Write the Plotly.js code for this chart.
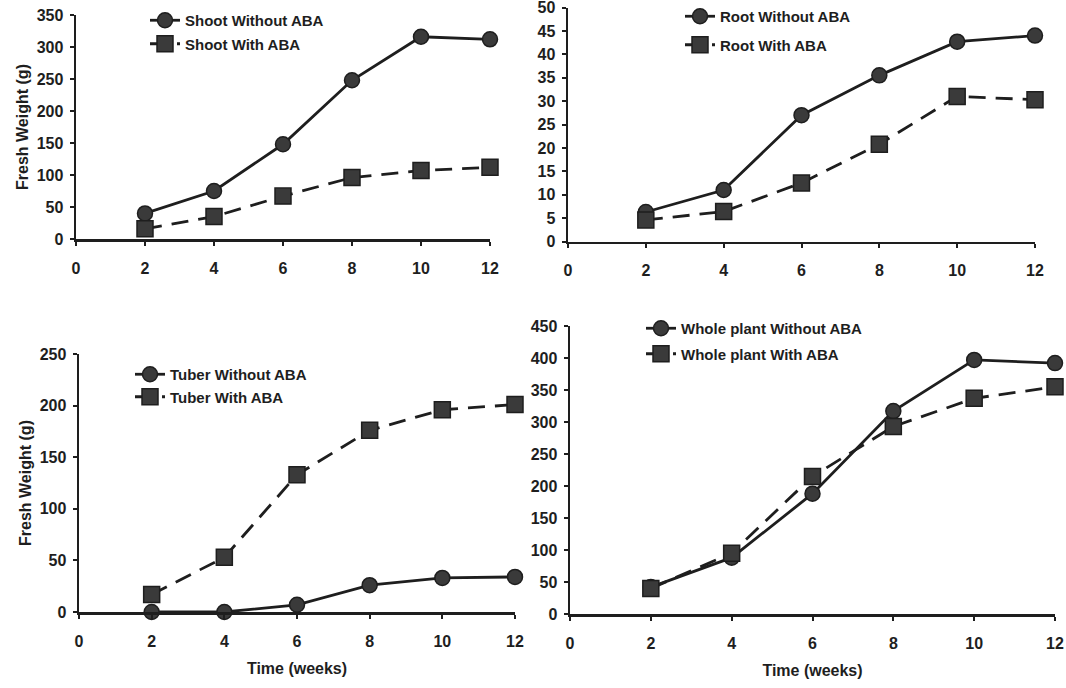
<!DOCTYPE html>
<html>
<head>
<meta charset="utf-8">
<script src="https://cdn.plot.ly/plotly-3.0.1.min.js"></script>
<style>
  html, body { margin: 0; padding: 0; background: #ffffff; }
  #chart { width: 1066px; height: 688px; }
</style>
</head>
<body>
<div id="chart"></div>
<script>
// ---- Data ----
const weeks = [2, 4, 6, 8, 10, 12];
const xTicks = [0, 2, 4, 6, 8, 10, 12];
const shootTicks = [0, 50, 100, 150, 200, 250, 300, 350];
const rootTicks  = [0, 5, 10, 15, 20, 25, 30, 35, 40, 45, 50];
const tuberTicks = [0, 50, 100, 150, 200, 250];
const wholeTicks = [0, 50, 100, 150, 200, 250, 300, 350, 400, 450];

const shootWithout = [40, 75, 148, 248, 316, 312];
const shootWith    = [16, 35, 67, 96, 107, 112];

const rootWithout  = [6.3, 11, 27, 35.5, 42.7, 44];
const rootWith     = [4.6, 6.4, 12.5, 20.8, 31, 30.3];

const tuberWithout = [0, 0, 7, 26, 33, 34];
const tuberWith    = [17, 53, 133, 176, 196, 201];

const wholeWithout = [42, 88, 188, 317, 397, 392];
const wholeWith    = [40, 95, 215, 293, 337, 355];

const names = {
  shoot: ['Shoot Without ABA', 'Shoot With ABA'],
  root:  ['Root Without ABA', 'Root With ABA'],
  tuber: ['Tuber Without ABA', 'Tuber With ABA'],
  whole: ['Whole plant Without ABA', 'Whole plant With ABA']
};

const yTitle = 'Fresh Weight (g)';
const xTitle = 'Time (weeks)';

// ---- Styling ----
const ink = '#1e1e1e';
const fontFam = 'Liberation Sans, Arial, Helvetica, sans-serif';

function withoutTrace(y, name, xa, ya, legend) {
  return {
    x: weeks, y: y, name: name, xaxis: xa, yaxis: ya, legend: legend,
    legendgroup: name,
    type: 'scatter', mode: 'lines+markers', cliponaxis: false,
    line: { color: ink, width: 2.8 },
    marker: { symbol: 'circle', size: 15, color: '#3a3a3a', line: { color: ink, width: 1.5 } }
  };
}
function withTrace(y, name, xa, ya, legend) {
  return {
    x: weeks, y: y, name: name, xaxis: xa, yaxis: ya, legend: legend,
    legendgroup: name,
    type: 'scatter', mode: 'lines+markers', cliponaxis: false,
    line: { color: ink, width: 2.8, dash: '17px,10px' },
    marker: { symbol: 'square', size: 16, color: '#3a3a3a', line: { color: ink, width: 1.5 } }
  };
}

const data = [
  withoutTrace(shootWithout, names.shoot[0], 'x', 'y', 'legend'),
  withTrace(shootWith, names.shoot[1], 'x', 'y', 'legend'),
  withoutTrace(rootWithout, names.root[0], 'x2', 'y2', 'legend2'),
  withTrace(rootWith, names.root[1], 'x2', 'y2', 'legend2'),
  withoutTrace(tuberWithout, names.tuber[0], 'x3', 'y3', 'legend3'),
  withTrace(tuberWith, names.tuber[1], 'x3', 'y3', 'legend3'),
  withoutTrace(wholeWithout, names.whole[0], 'x4', 'y4', 'legend4'),
  withTrace(wholeWith, names.whole[1], 'x4', 'y4', 'legend4')
];

const W = 1066, H = 688;
function px(a, b) { return [a / W, b / W]; }
function py(bottom, top) { return [1 - bottom / H, 1 - top / H]; }
function bold(v) { return '<b>' + v + '</b>'; }

const tickFont = { family: fontFam, size: 16, color: ink };
const titleFont = { family: fontFam, size: 16, color: ink };

function xAxis(domain, anchor, title) {
  const ax = {
    domain: domain, anchor: anchor, range: [0, 12],
    tickmode: 'array', tickvals: xTicks, ticktext: xTicks.map(bold),
    showline: true, linecolor: ink, linewidth: 2.6,
    ticks: 'outside', ticklen: 4, tickwidth: 2, tickcolor: ink,
    showgrid: false, zeroline: false, tickfont: tickFont, ticklabelstandoff: 9,
    ticklabeloverflow: 'allow',
    fixedrange: true
  };
  if (title) ax.title = { text: bold(title), font: titleFont, standoff: 14 };
  return ax;
}
function yAxis(domain, anchor, range, ticks, title) {
  const ax = {
    domain: domain, anchor: anchor, range: range,
    tickmode: 'array', tickvals: ticks, ticktext: ticks.map(bold),
    showline: true, linecolor: ink, linewidth: 2.4,
    ticks: 'outside', ticklen: 4, tickwidth: 2, tickcolor: ink,
    showgrid: false, zeroline: false, tickfont: tickFont, ticklabelstandoff: 3,
    ticklabeloverflow: 'allow',
    fixedrange: true
  };
  if (title) ax.title = { text: bold(title), font: titleFont, standoff: 4 };
  return ax;
}

const legendBase = {
  bgcolor: 'rgba(0,0,0,0)', borderwidth: 0,
  font: { family: fontFam, size: 15, color: ink, weight: 'bold' },
  xanchor: 'left', yanchor: 'top', itemwidth: 30
};

const layout = {
  width: W, height: H,
  margin: { l: 0, r: 0, t: 0, b: 0, pad: 0 },
  paper_bgcolor: '#ffffff', plot_bgcolor: '#ffffff',
  font: { family: fontFam, color: ink },
  showlegend: true,
  xaxis:  xAxis(px(76, 490), 'y'),
  yaxis:  yAxis(py(239, 15), 'x', [0, 350], shootTicks, yTitle),
  xaxis2: xAxis(px(568, 1035), 'y2'),
  yaxis2: yAxis(py(241.5, 7.5), 'x2', [0, 50], rootTicks),
  xaxis3: xAxis(px(79, 515), 'y3', xTitle),
  yaxis3: yAxis(py(612, 354), 'x3', [0, 250], tuberTicks, yTitle),
  xaxis4: xAxis(px(570, 1055), 'y4', xTitle),
  yaxis4: yAxis(py(614, 326), 'x4', [0, 450], wholeTicks),
  legend:  Object.assign({}, legendBase, { x: 145 / W, y: 1 - 4 / H, tracegroupgap: 1 }),
  legend2: Object.assign({}, legendBase, { x: 680 / W, y: 1 - 0 / H, tracegroupgap: 6 }),
  legend3: Object.assign({}, legendBase, { x: 130 / W, y: 1 - 358 / H, tracegroupgap: 0 }),
  legend4: Object.assign({}, legendBase, { x: 641 / W, y: 1 - 312 / H, tracegroupgap: 3 })
};

Plotly.newPlot('chart', data, layout, { displayModeBar: false, staticPlot: true });
</script>
</body>
</html>
